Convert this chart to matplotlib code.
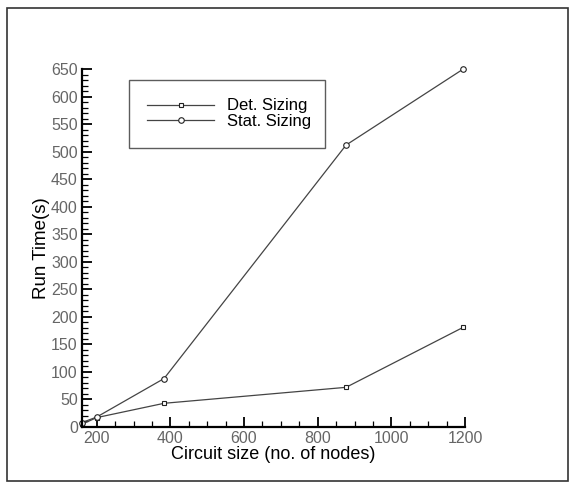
import matplotlib
matplotlib.use("Agg")
from matplotlib import pyplot as plt
from matplotlib import patches as pts
from matplotlib.ticker import MultipleLocator

plt.rcParams['font.family'] = ['Liberation Sans', 'DejaVu Sans']

# data
nodes = [160, 200, 383, 877, 1195]
det_sizing = [5, 17, 43, 72, 181]
stat_sizing = [8, 18, 88, 512, 650]
labels = ['Det. Sizing', 'Stat. Sizing']

fig = plt.figure(figsize=(5.77, 4.83), dpi=100)
# outer frame around the whole picture
fig.patches.append(pts.Rectangle((0.012, 0.004), 0.972, 0.979, transform=fig.transFigure,
                                 fill=False, edgecolor='#333333', linewidth=1.2))

ax = fig.add_axes([0.142, 0.116, 0.664, 0.741])
lc = '#444444'
ax.plot(nodes, det_sizing, color=lc, lw=0.9, marker='s', ms=3.2, mfc='white', mec='#222222',
        mew=0.8, clip_on=False)
ax.plot(nodes, stat_sizing, color=lc, lw=0.9, marker='o', ms=4, mfc='white', mec='#222222',
        mew=0.8, clip_on=False)

ax.set_xlim(160, 1200)
ax.set_ylim(0, 650)
ax.xaxis.set_major_locator(MultipleLocator(200))
ax.xaxis.set_minor_locator(MultipleLocator(50))
ax.yaxis.set_major_locator(MultipleLocator(50))
ax.yaxis.set_minor_locator(MultipleLocator(10))
ax.spines['top'].set_visible(False)
ax.spines['right'].set_visible(False)
ax.spines['left'].set_linewidth(1.6)
ax.spines['bottom'].set_linewidth(1.6)
ax.tick_params(which='major', direction='in', length=7, width=1.3, labelsize=11.5,
               labelcolor='#666666', pad=3)
ax.tick_params(which='minor', direction='in', length=4, width=0.9)

ax.set_xlabel('Circuit size (no. of nodes)', fontsize=13, labelpad=0)
ax.set_ylabel('Run Time(s)', fontsize=13.5, labelpad=1)

leg = ax.legend(labels, loc='upper left', bbox_to_anchor=(0.123, 0.785, 0.511, 0.184),
                mode='expand', borderaxespad=0, fancybox=False, fontsize=12,
                handlelength=4.0, handletextpad=0.8, labelspacing=0.05,
                borderpad=1.1)
leg.get_frame().set_edgecolor('#333333')
leg.get_frame().set_linewidth(1.0)

fig.savefig('out.png', dpi=100)
